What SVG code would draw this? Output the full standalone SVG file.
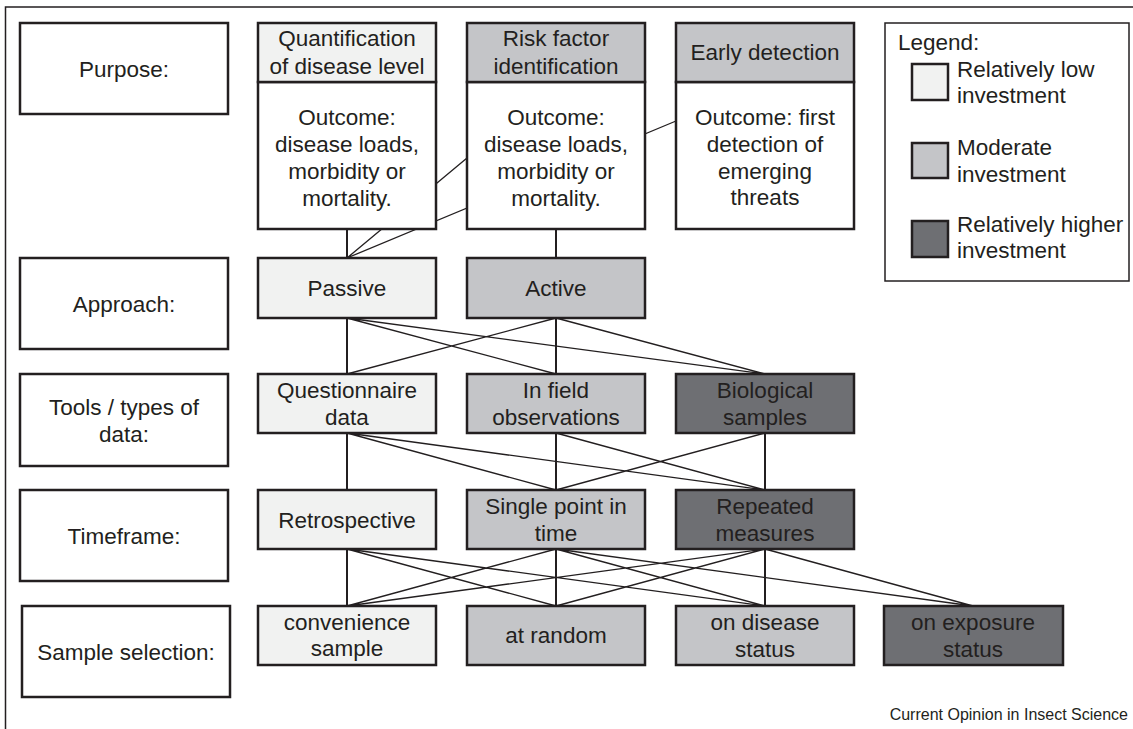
<svg xmlns="http://www.w3.org/2000/svg" width="1133" height="729" viewBox="0 0 1133 729">
<style>
text{font-family:"Liberation Sans",Arial,sans-serif;font-size:22.5px;fill:#231f20;text-anchor:middle}
.box{stroke:#231f20;stroke-width:2.5}
.w{fill:#ffffff}
.lo{fill:#f1f2f1}
.mo{fill:#c4c5c8}
.hi{fill:#6e6f73}
.v{stroke:#231f20;stroke-width:2;fill:none}
.d{stroke:#231f20;stroke-width:1.3;fill:none}
.leg{fill:#ffffff;stroke:#231f20;stroke-width:1.5}
.l{text-anchor:start}
</style>
<rect width="1133" height="729" fill="#ffffff"/>
<g id="frame"><path d="M5.5,729 V7 H1133" fill="none" stroke="#231f20" stroke-width="1.5"/></g>

<g id="connectors">
<path class="v" d="M347,229V258M556,229V258M347,318V374M556,318V374M347,433V490M556,433V490M765,433V490M347,549V606M556,549V606M765,549V606"/>
<path class="d" d="M347,258L467,158M347,258L676,121"/>
<path class="d" d="M347,318L556,374M347,318L765,374M556,318L347,374M556,318L765,374"/>
<path class="d" d="M347,433L556,490M347,433L765,490M556,433L765,490M765,433L556,490"/>
<path class="d" d="M347,549L556,606M347,549L765,606M556,549L347,606M556,549L765,606M556,549L973,606M765,549L347,606M765,549L556,606M765,549L973,606"/>
</g>

<g id="label-purpose"><rect class="box w" x="20" y="23" width="208" height="91"/><text x="124" y="77">Purpose:</text></g>
<g id="label-approach"><rect class="box w" x="20" y="258" width="208" height="91"/><text x="124" y="312">Approach:</text></g>
<g id="label-tools"><rect class="box w" x="20" y="374" width="208" height="92"/><text x="124" y="415">Tools / types of</text><text x="124" y="442">data:</text></g>
<g id="label-timeframe"><rect class="box w" x="20" y="490" width="208" height="91"/><text x="124" y="544">Timeframe:</text></g>
<g id="label-sample"><rect class="box w" x="22" y="606" width="208" height="91"/><text x="126" y="660">Sample selection:</text></g>

<g id="quantification">
<rect class="box w" x="258" y="82" width="178" height="147"/>
<rect class="box lo" x="258" y="23" width="178" height="59"/>
<text x="347" y="46">Quantification</text><text x="347" y="74">of disease level</text>
<text x="347" y="125">Outcome:</text><text x="347" y="152">disease loads,</text><text x="347" y="179">morbidity or</text><text x="347" y="206">mortality.</text>
</g>
<g id="risk">
<rect class="box w" x="467" y="82" width="178" height="147"/>
<rect class="box mo" x="467" y="23" width="178" height="59"/>
<text x="556" y="46">Risk factor</text><text x="556" y="74">identification</text>
<text x="556" y="125">Outcome:</text><text x="556" y="152">disease loads,</text><text x="556" y="179">morbidity or</text><text x="556" y="206">mortality.</text>
</g>
<g id="early">
<rect class="box w" x="676" y="82" width="178" height="147"/>
<rect class="box mo" x="676" y="23" width="178" height="59"/>
<text x="765" y="60">Early detection</text>
<text x="765" y="125">Outcome: first</text><text x="765" y="152">detection of</text><text x="765" y="179">emerging</text><text x="765" y="205">threats</text>
</g>

<g id="passive"><rect class="box lo" x="258" y="258" width="178" height="60"/><text x="347" y="296">Passive</text></g>
<g id="active"><rect class="box mo" x="467" y="258" width="178" height="60"/><text x="556" y="296">Active</text></g>

<g id="questionnaire"><rect class="box lo" x="258" y="374" width="178" height="59"/><text x="347" y="398">Questionnaire</text><text x="347" y="425">data</text></g>
<g id="infield"><rect class="box mo" x="467" y="374" width="178" height="59"/><text x="556" y="398">In field</text><text x="556" y="425">observations</text></g>
<g id="biological"><rect class="box hi" x="676" y="374" width="178" height="59"/><text x="765" y="398">Biological</text><text x="765" y="425">samples</text></g>

<g id="retrospective"><rect class="box lo" x="258" y="490" width="178" height="59"/><text x="347" y="528">Retrospective</text></g>
<g id="single"><rect class="box mo" x="467" y="490" width="178" height="59"/><text x="556" y="514">Single point in</text><text x="556" y="541">time</text></g>
<g id="repeated"><rect class="box hi" x="676" y="490" width="178" height="59"/><text x="765" y="514">Repeated</text><text x="765" y="541">measures</text></g>

<g id="convenience"><rect class="box lo" x="258" y="606" width="178" height="59"/><text x="347" y="630">convenience</text><text x="347" y="656">sample</text></g>
<g id="random"><rect class="box mo" x="467" y="606" width="178" height="59"/><text x="556" y="643">at random</text></g>
<g id="disease"><rect class="box mo" x="676" y="606" width="178" height="59"/><text x="765" y="630">on disease</text><text x="765" y="657">status</text></g>
<g id="exposure"><rect class="box hi" x="884" y="606" width="179" height="59"/><text x="973" y="630">on exposure</text><text x="973" y="657">status</text></g>

<g id="legend">
<rect class="leg" x="885" y="23" width="244" height="258"/>
<text class="l" x="898" y="50">Legend:</text>
<rect class="box lo" x="912" y="64" width="36" height="36"/>
<text class="l" x="957" y="77">Relatively low</text><text class="l" x="957" y="103">investment</text>
<rect class="box mo" x="912" y="143" width="36" height="35"/>
<text class="l" x="957" y="155">Moderate</text><text class="l" x="957" y="182">investment</text>
<rect class="box hi" x="912" y="221" width="36" height="36"/>
<text class="l" x="957" y="232">Relatively higher</text><text class="l" x="957" y="258">investment</text>
</g>

<text x="1128" y="720" style="font-size:16px;text-anchor:end">Current Opinion in Insect Science</text>
</svg>
